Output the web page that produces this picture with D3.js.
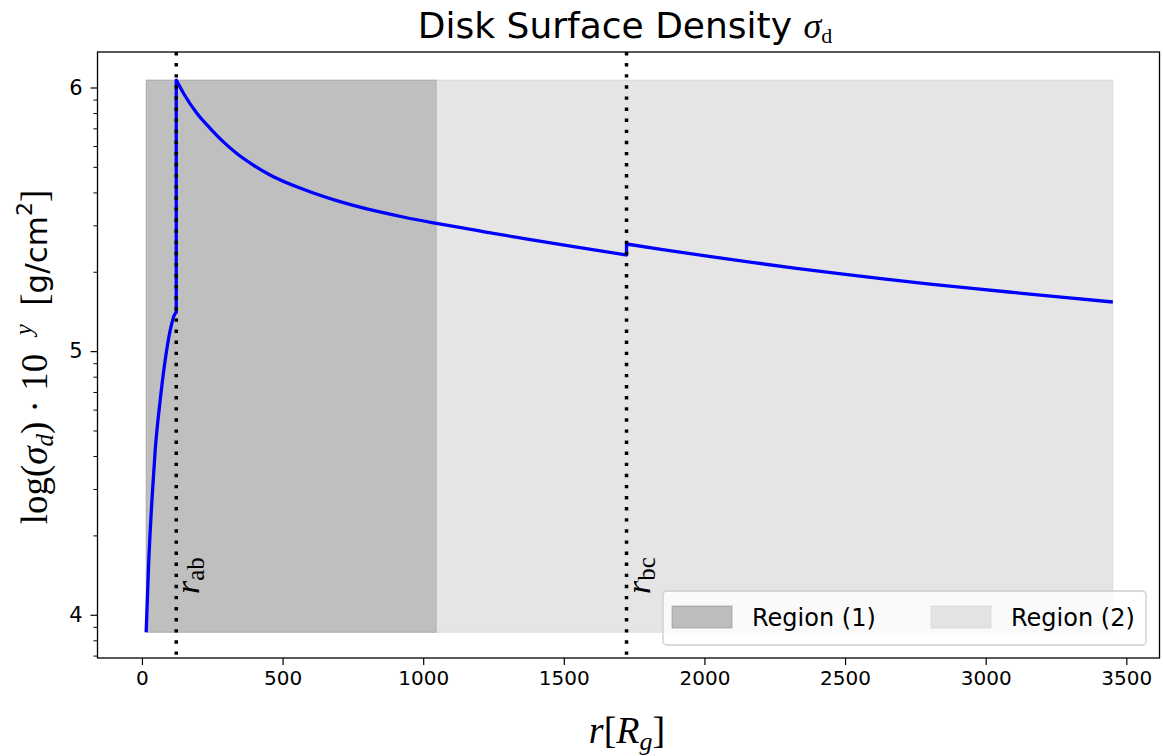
<!DOCTYPE html>
<html>
<head>
<meta charset="utf-8">
<script src="https://cdn.jsdelivr.net/npm/d3@7"></script>
<style>
  body { margin: 0; background: #fff; }
  .sans { font-family: "DejaVu Sans", sans-serif; }
  .serif { font-family: "Liberation Serif", "DejaVu Serif", serif; }
</style>
</head>
<body>
<svg id="chart" width="1163" height="756"></svg>
<script>
// Radius r in gravitational radii, surface density sigma in g/cm^2.
// Inner zone (a), middle zone (b), outer zone (c).
const rA = [15, 23.4, 35.5, 47.2, 65, 82.7, 100.5, 118.2, 122];
const sigmaA = [8.58e3, 1.52e4, 2.72e4, 4.22e4, 6.53e4, 9.25e4, 1.20e5, 1.39e5, 1.40e5];

const rB = [122, 147.7, 195.3, 242.5, 289.7, 337.3, 396, 455.5, 573.8, 692.4, 810.6, 928.8, 1047, 1217.5, 1376, 1535, 1723];
const sigmaB = [1.067e6, 9.51e5, 7.98e5, 7.00e5, 6.22e5, 5.62e5, 5.08e5, 4.66e5, 4.110e5, 3.721e5, 3.440e5, 3.227e5, 3.053e5, 2.836e5, 2.654e5, 2.491e5, 2.316e5];

const rC = [1723, 1851.6, 2010, 2168.7, 2327, 2486, 2644, 2802, 2961, 3120, 3278, 3452];
const sigmaC = [2.549e5, 2.429e5, 2.293e5, 2.170e5, 2.062e5, 1.963e5, 1.876e5, 1.797e5, 1.726e5, 1.661e5, 1.600e5, 1.536e5];

// Zone boundaries
const boundaryNames = ["ab", "bc"];
const boundaryRadii = [122, 1723];

// Shaded regions
const regionNames = ["Region (1)", "Region (2)"];
const regionStart = [15, 1047];
const regionEnd = [1047, 3452];
const regionColors = ["#808080", "#cbcbcb"];

// Axis ticks
const xTicks = [0, 500, 1000, 1500, 2000, 2500, 3000, 3500];
const yTicks = [1e4, 1e5, 1e6];
const yTickLabels = ["4", "5", "6"];
const yMinorTicks = [7e3, 8e3, 9e3, 2e4, 3e4, 4e4, 5e4, 6e4, 7e4, 8e4, 9e4,
                     2e5, 3e5, 4e5, 5e5, 6e5, 7e5, 8e5, 9e5];

const svg = d3.select("#chart");
const plot = { left: 97.5, right: 1159.5, top: 52, bottom: 658 };

const x = d3.scaleLinear().domain([-158, 3618]).range([plot.left, plot.right]);
const y = d3.scaleLog().domain([6855, 1.3635e6]).range([plot.bottom, plot.top]);

const allSigma = sigmaA.concat(sigmaB, sigmaC);
const [sigMin, sigMax] = d3.extent(allSigma);

// Shaded regions spanning the full range of the density curve
const g = svg.append("g");
regionNames.forEach((name, i) => {
  g.append("rect")
    .attr("x", x(regionStart[i]))
    .attr("y", y(sigMax))
    .attr("width", x(regionEnd[i]) - x(regionStart[i]))
    .attr("height", y(sigMin) - y(sigMax))
    .attr("fill", regionColors[i])
    .attr("fill-opacity", 0.5)
    .attr("stroke", regionColors[i])
    .attr("stroke-opacity", 0.5)
    .attr("stroke-width", 1);
});

// Density curve: the three zones joined into one continuous path
const line = d3.line()
  .x(d => x(d[0]))
  .y(d => y(d[1]))
  .curve(d3.curveMonotoneX);
const seg = (rs, ss) => line(rs.map((r, i) => [r, ss[i]]));
const pathD = seg(rA, sigmaA) +
  seg(rB, sigmaB).replace(/^M/, "L") +
  seg(rC, sigmaC).replace(/^M/, "L");
g.append("path")
  .attr("d", pathD)
  .attr("fill", "none")
  .attr("stroke", "#0000ff")
  .attr("stroke-width", 3.3)
  .attr("stroke-linejoin", "round");

// Zone boundary markers
boundaryRadii.forEach((rb, i) => {
  g.append("line")
    .attr("x1", x(rb)).attr("x2", x(rb))
    .attr("y1", plot.top).attr("y2", plot.bottom)
    .attr("stroke", "#000")
    .attr("stroke-width", 3.5)
    .attr("stroke-dasharray", "3.4 7.7");
  const t = g.append("text")
    .attr("class", "serif")
    .attr("transform", `translate(${x(rb) + 23},594) rotate(-90)`)
    .attr("font-size", 34);
  t.append("tspan").attr("font-style", "italic").text("r");
  t.append("tspan").attr("font-size", 25).attr("dy", 5).text(boundaryNames[i]);
});

// Axes frame
svg.append("rect")
  .attr("x", plot.left).attr("y", plot.top)
  .attr("width", plot.right - plot.left)
  .attr("height", plot.bottom - plot.top)
  .attr("fill", "none")
  .attr("stroke", "#000")
  .attr("stroke-width", 1.3);

// X axis
const xAxis = d3.axisBottom(x).tickValues(xTicks).tickSize(7).tickPadding(6)
  .tickFormat(d3.format("d"));
const gx = svg.append("g")
  .attr("transform", `translate(0,${plot.bottom})`)
  .call(xAxis);
gx.select(".domain").remove();
gx.selectAll("line").attr("stroke-width", 1.2);
gx.selectAll("text").attr("class", "sans").attr("font-size", 20).attr("fill", "#000");

// Y axis (log scale, labelled by exponent)
const yAxis = d3.axisLeft(y).tickValues(yTicks).tickSize(7).tickPadding(8)
  .tickFormat((d, i) => yTickLabels[i]);
const gy = svg.append("g")
  .attr("transform", `translate(${plot.left},0)`)
  .call(yAxis);
gy.select(".domain").remove();
gy.selectAll("line").attr("stroke-width", 1.2);
gy.selectAll("text").attr("class", "sans").attr("font-size", 21).attr("fill", "#000");

const yMinor = d3.axisLeft(y).tickValues(yMinorTicks).tickSize(4).tickFormat("");
const gyMinor = svg.append("g")
  .attr("transform", `translate(${plot.left},0)`)
  .call(yMinor);
gyMinor.select(".domain").remove();
gyMinor.selectAll("line").attr("stroke-width", 1);

// Title
const title = svg.append("text")
  .attr("x", 625).attr("y", 38)
  .attr("text-anchor", "middle")
  .attr("font-size", 36);
title.append("tspan").attr("class", "sans").text("Disk Surface Density ");
title.append("tspan").attr("class", "serif").attr("font-style", "italic").text("σ");
title.append("tspan").attr("class", "serif").attr("font-size", 22).attr("dy", 5).text("d");

// X label
const xl = svg.append("text")
  .attr("class", "serif")
  .attr("x", 627).attr("y", 743)
  .attr("text-anchor", "middle")
  .attr("font-size", 38);
xl.append("tspan").attr("font-style", "italic").text("r");
xl.append("tspan").text("[");
xl.append("tspan").attr("font-style", "italic").text("R");
xl.append("tspan").attr("font-style", "italic").attr("font-size", 26).attr("dy", 7).text("g");
xl.append("tspan").attr("dy", -7).text("]");

// Y label
const yl = svg.append("text")
  .attr("class", "serif")
  .attr("transform", "translate(47,357) rotate(-90)")
  .attr("text-anchor", "middle")
  .attr("font-size", 37);
yl.append("tspan").text("log(");
yl.append("tspan").attr("font-style", "italic").text("σ");
yl.append("tspan").attr("font-style", "italic").attr("font-size", 25).attr("dy", 6).text("d");
yl.append("tspan").attr("dy", -6).text(") · 10\u2002");
yl.append("tspan").attr("font-style", "italic").attr("font-size", 25).attr("dy", -15).text("y");
yl.append("tspan").attr("dy", 15).text("\u2002[");
yl.append("tspan").attr("class", "sans").attr("font-size", 31).text("g/cm");
yl.append("tspan").attr("class", "sans").attr("font-size", 22).attr("dy", -15).text("2");
yl.append("tspan").attr("dy", 15).text("]");

// Legend
const lg = svg.append("g");
lg.append("rect")
  .attr("x", 663).attr("y", 591).attr("width", 483).attr("height", 54)
  .attr("rx", 4)
  .attr("fill", "#fff").attr("fill-opacity", 0.8)
  .attr("stroke", "#cccccc").attr("stroke-width", 1.3);
const legendX = [672, 931];
regionNames.forEach((name, i) => {
  lg.append("rect")
    .attr("x", legendX[i]).attr("y", 606).attr("width", 60).attr("height", 22)
    .attr("fill", regionColors[i]).attr("fill-opacity", 0.5)
    .attr("stroke", regionColors[i]).attr("stroke-opacity", 0.5);
  lg.append("text")
    .attr("class", "sans")
    .attr("x", legendX[i] + 80).attr("y", 626)
    .attr("font-size", 24)
    .text(name);
});
</script>
</body>
</html>
